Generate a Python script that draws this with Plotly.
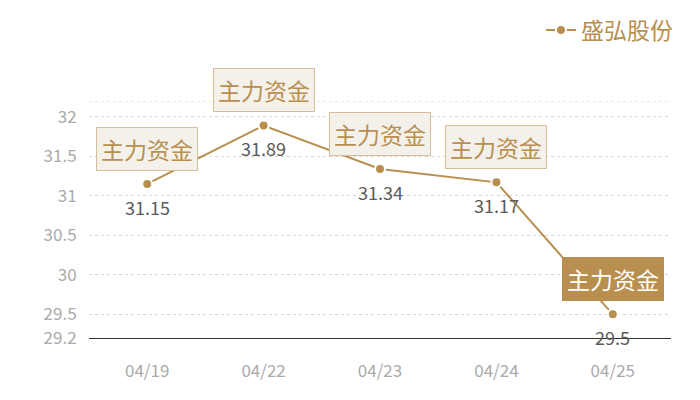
import plotly.graph_objects as go

# データ
dates = ["04/19", "04/22", "04/23", "04/24", "04/25"]
prices = [31.15, 31.89, 31.34, 31.17, 29.5]
price_text = ["31.15", "31.89", "31.34", "31.17", "29.5"]
series_name = "盛弘股份"
flag_label = "主力资金"
y_ticks = [29.2, 29.5, 30, 30.5, 31, 31.5, 32]

gold = "#b88f4e"
font_family = "Noto Sans CJK SC, Noto Sans, sans-serif"

fig = go.Figure()

fig.add_trace(go.Scatter(
    x=dates,
    y=prices,
    mode="lines+markers",
    name=series_name,
    line=dict(color=gold, width=2),
    marker=dict(size=10, color=gold, line=dict(color="white", width=2)),
    hoverinfo="x+y",
))

for i, (d, p, t) in enumerate(zip(dates, prices, price_text)):
    last = i == len(dates) - 1
    # 値ラベル
    fig.add_annotation(
        x=d, y=p, yshift=-23, showarrow=False, text=t,
        font=dict(size=18, color="#5a5a5a", family=font_family),
    )
    # 主力资金の吹き出し（最後だけ塗りつぶし）
    fig.add_annotation(
        x=d, y=p, yshift=35, showarrow=False,
        text=flag_label,
        font=dict(size=23, color="white" if last else gold, family=font_family),
        bgcolor=gold if last else "#f4f0ea",
        bordercolor=gold if last else "#d6bf98",
        borderwidth=1, borderpad=4,
    )

fig.update_layout(
    width=700, height=400,
    margin=dict(l=81, r=37, t=93, b=70, autoexpand=False),
    plot_bgcolor="white", paper_bgcolor="white",
    font=dict(family=font_family),
    showlegend=True,
    legend=dict(
        x=1.012, y=1.39, xanchor="right", yanchor="top",
        font=dict(size=23, color=gold),
        bgcolor="rgba(0,0,0,0)",
        itemwidth=30,
    ),
    xaxis=dict(
        type="category",
        range=[-0.5, 4.5],
        showgrid=False,
        showline=True, linecolor="#333333", linewidth=1,
        ticks="outside", ticklen=18, tickcolor="rgba(0,0,0,0)",
        tickfont=dict(size=17, color="#aaaaaa"),
    ),
    yaxis=dict(
        range=[29.2, 32.2],
        tickvals=y_ticks,
        ticktext=[str(v) for v in y_ticks],
        showgrid=True, gridcolor="#d5d5d5", griddash="dot", gridwidth=1,
        zeroline=False,
        ticks="outside", ticklen=8, tickcolor="rgba(0,0,0,0)",
        tickfont=dict(size=17, color="#aaaaaa"),
    ),
)

# 上端のグリッド線（32.2）
fig.add_hline(y=32.2, line=dict(color="#d5d5d5", width=1, dash="dot"))

fig.write_html("out.html")
